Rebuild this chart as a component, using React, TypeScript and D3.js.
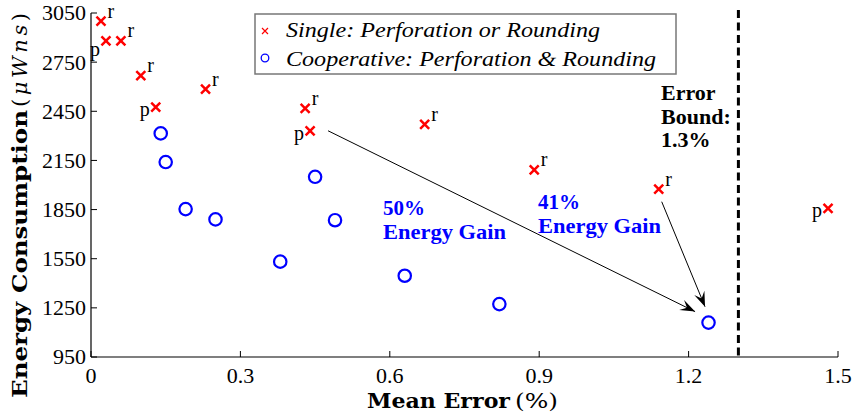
import React from "react";
import * as d3 from "d3";

// ---- data ----
const singleError = [0.02, 0.03, 0.06, 0.10, 0.13, 0.23, 0.43, 0.44, 0.67, 0.89, 1.14, 1.48];
const singleEnergy = [3000, 2880, 2880, 2668, 2475, 2585, 2468, 2330, 2370, 2092, 1975, 1858];
const singleLabel = ["r", "p", "r", "r", "p", "r", "r", "p", "r", "r", "r", "p"];

const coopError = [0.14, 0.15, 0.19, 0.25, 0.38, 0.45, 0.49, 0.63, 0.82, 1.24];
const coopEnergy = [2315, 2140, 1853, 1790, 1532, 2050, 1785, 1446, 1273, 1160];

const xTicks = [0, 0.3, 0.6, 0.9, 1.2, 1.5];
const yTicks = [950, 1250, 1550, 1850, 2150, 2450, 2750, 3050];
const errorBound = 1.3;

const legendLabels = ["Single: Perforation or Rounding", "Cooperative: Perforation & Rounding"];

// annotation arrows: [fromError, fromEnergy, toError, toEnergy]
const arrows = [
  [0.476, 2331, 1.213, 1227],
  [1.146, 1898, 1.233, 1257],
];

const W = 855;
const H = 417;

export default function App() {
  const x = d3.scaleLinear().domain([0, 1.5]).range([91, 838]);
  const y = d3.scaleLinear().domain([950, 3050]).range([357, 13]);
  const x0 = x(0);
  const yB = y(950);
  const serif = "'Liberation Serif', 'Times New Roman', serif";
  const wide = "'DejaVu Serif', serif";
  const xfmt = (d: number) => (d === 0 ? "0" : d3.format(".1f")(d));

  const cross = (cx: number, cy: number, s: number) =>
    `M${cx - s},${cy - s}L${cx + s},${cy + s}M${cx - s},${cy + s}L${cx + s},${cy - s}`;

  const arrowHead = (x1: number, y1: number, x2: number, y2: number) => {
    const a = Math.atan2(y2 - y1, x2 - x1);
    const L = 15, Wd = 5.5, N = 9;
    const pt = (dx: number, dy: number) => {
      const px = x2 + dx * Math.cos(a) - dy * Math.sin(a);
      const py = y2 + dx * Math.sin(a) + dy * Math.cos(a);
      return `${px},${py}`;
    };
    return `M${pt(0, 0)}L${pt(-L, -Wd)}L${pt(-N, 0)}L${pt(-L, Wd)}Z`;
  };

  return (
    <svg width={W} height={H} style={{ position: "absolute", left: 0, top: 0, background: "#fff" }}>
      <rect x={0} y={0} width={W} height={H} fill="#fff" />
      {/* axes */}
      <line x1={x0} x2={x0} y1={y(3050)} y2={yB} stroke="#000" strokeWidth={1.2} />
      <line x1={x0} x2={x(1.5)} y1={yB} y2={yB} stroke="#000" strokeWidth={1.2} />
      {yTicks.map((t) => (
        <g key={"y" + t}>
          <line x1={x0} x2={x0 + 6} y1={y(t)} y2={y(t)} stroke="#000" strokeWidth={1} />
          <text x={86} y={y(t)} dy="0.34em" textAnchor="end" fontFamily={serif} fontSize={22}>
            {t}
          </text>
        </g>
      ))}
      {xTicks.map((t) => (
        <g key={"x" + t}>
          <line x1={x(t)} x2={x(t)} y1={yB} y2={yB - 6} stroke="#000" strokeWidth={1} />
          <text x={x(t)} y={yB + 26} textAnchor="middle" fontFamily={serif} fontSize={22}>
            {xfmt(t)}
          </text>
        </g>
      ))}

      {/* axis titles */}
      <text x={367} y={408} fontFamily={wide} fontWeight="bold" fontSize={20} textLength={143} lengthAdjust="spacingAndGlyphs">
        Mean Error
      </text>
      <text x={515} y={408} fontFamily={wide} fontSize={21} textLength={43} lengthAdjust="spacingAndGlyphs">
        (%)
      </text>
      <text transform={`translate(27,398) rotate(-90)`} fontFamily={wide} fontWeight="bold" fontSize={20} textLength={288} lengthAdjust="spacingAndGlyphs">
        Energy Consumption
      </text>
      <text transform={`translate(27,107) rotate(-90)`} fontFamily={wide} fontSize={21} textLength={94} lengthAdjust="spacing">
        (<tspan fontStyle="italic">μWns</tspan>)
      </text>

      {/* error bound */}
      <line x1={x(errorBound)} x2={x(errorBound)} y1={10} y2={yB} stroke="#000" strokeWidth={3} strokeDasharray="8,4.5" />
      <text fontFamily={serif} fontWeight="bold" fontSize={22} x={661}>
        <tspan x={661} y={100}>Error</tspan>
        <tspan x={661} y={123.5}>Bound:</tspan>
        <tspan x={661} y={147}>1.3%</tspan>
      </text>

      {/* gains */}
      <text x={383} y={214.5} fontFamily={serif} fontWeight="bold" fontSize={21} fill="#0000ff">50%</text>
      <text x={383} y={238.5} fontFamily={serif} fontWeight="bold" fontSize={21} fill="#0000ff" textLength={123} lengthAdjust="spacingAndGlyphs">Energy Gain</text>
      <text x={538} y={208.5} fontFamily={serif} fontWeight="bold" fontSize={21} fill="#0000ff">41%</text>
      <text x={538} y={232.5} fontFamily={serif} fontWeight="bold" fontSize={21} fill="#0000ff" textLength={123} lengthAdjust="spacingAndGlyphs">Energy Gain</text>

      {/* arrows */}
      {arrows.map((a, i) => {
        const x1 = x(a[0]), y1 = y(a[1]), x2 = x(a[2]), y2 = y(a[3]);
        return (
          <g key={"a" + i}>
            <line x1={x1} y1={y1} x2={x2} y2={y2} stroke="#000" strokeWidth={1} />
            <path d={arrowHead(x1, y1, x2, y2)} fill="#000" />
          </g>
        );
      })}

      {/* single points */}
      {singleError.map((e, i) => {
        const cx = x(e), cy = y(singleEnergy[i]);
        const lab = singleLabel[i];
        const first = i === 1;
        return (
          <g key={"s" + i}>
            <path d={cross(cx, cy, 4.5)} stroke="#ff0000" strokeWidth={2.5} fill="none" />
            {lab === "r" ? (
              <text x={cx + 6.5} y={cy - 3.5} fontFamily={serif} fontSize={20}>r</text>
            ) : (
              <text x={cx - 6} y={cy + (first ? 15 : 9)} textAnchor="end" fontFamily={serif} fontSize={20}>p</text>
            )}
          </g>
        );
      })}

      {/* cooperative points */}
      {coopError.map((e, i) => (
        <circle key={"c" + i} cx={x(e)} cy={y(coopEnergy[i])} r={6.2} fill="none" stroke="#0000ff" strokeWidth={2.2} />
      ))}

      {/* legend */}
      <rect x={255} y={14} width={421} height={60} fill="#fff" stroke="#777" strokeWidth={1.5} />
      <path d={cross(265, 31, 3)} stroke="#ff0000" strokeWidth={1.2} fill="none" />
      <circle cx={265} cy={58} r={3.8} fill="none" stroke="#0000ff" strokeWidth={1.3} />
      <text x={286} y={37} fontFamily={serif} fontStyle="italic" fontSize={22} textLength={314} lengthAdjust="spacingAndGlyphs">
        {legendLabels[0]}
      </text>
      <text x={286} y={65.5} fontFamily={serif} fontStyle="italic" fontSize={22} textLength={370} lengthAdjust="spacingAndGlyphs">
        {legendLabels[1]}
      </text>
    </svg>
  );
}
